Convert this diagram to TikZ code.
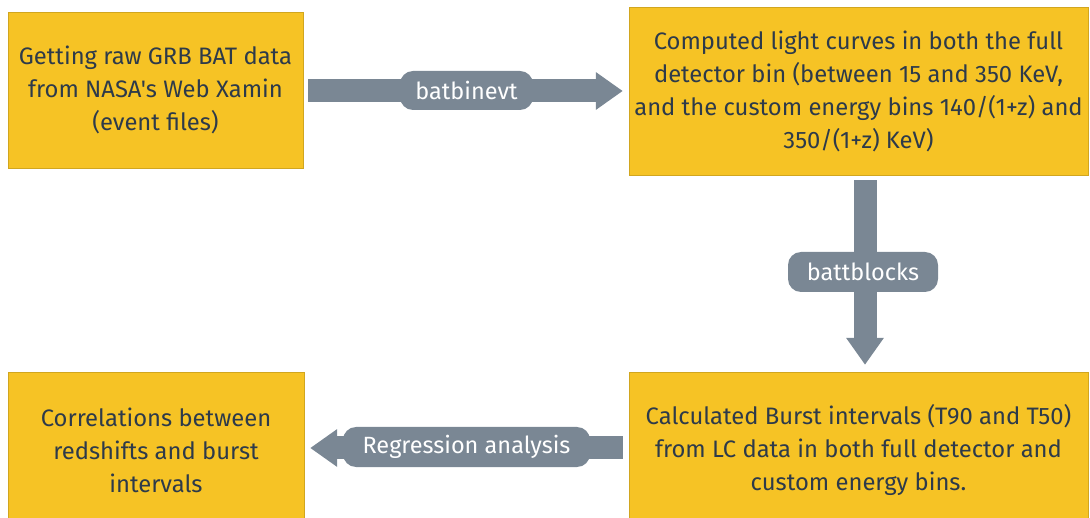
\documentclass[tikz,border=0pt]{standalone}
\usepackage{fontspec}
\setmainfont{Fira Sans}[Ligatures=TeXOff]
\usetikzlibrary{arrows.meta,shadows}
\definecolor{boxyellow}{HTML}{F6C325}
\definecolor{arrowgray}{HTML}{7A8794}
\definecolor{textdark}{HTML}{2D3A4A}
\tikzset{
  stepbox/.style={fill=boxyellow, draw=boxyellow!85!black, line width=0.4pt,
    text=textdark, align=center, inner sep=0pt,
    font=\fontsize{23.8}{33}\selectfont,
    drop shadow={shadow xshift=1pt, shadow yshift=-1.5pt, opacity=0.18}},
  flow/.style={draw=arrowgray, line width=23pt,
    -{Triangle[length=27pt,width=36pt]}},
  pill/.style={fill=arrowgray, text=white, rounded corners=13pt, inner sep=0pt,
    font=\fontsize{23.5}{26}\selectfont}
}
\begin{document}
\begin{tikzpicture}[x=1pt,y=-1pt]
\useasboundingbox (0,0) rectangle (1090,518);
\node[stepbox, minimum width=295pt, minimum height=156pt] (A) at (155.5,90)
  {Getting raw GRB BAT data\\from NASA's Web Xamin\\(event files)};
\node[stepbox, minimum width=459pt, minimum height=168pt] (B) at (858.5,91)
  {Computed light curves in both the full\\detector bin (between 15 and 350 KeV,\\and the custom energy bins 140/(1+z) and\\350/(1+z) KeV)};
\node[stepbox, minimum width=459pt, minimum height=156pt] (C) at (858.5,450)
  {Calculated Burst intervals (T90 and T50)\\from LC data in both full detector and\\custom energy bins.};
\node[stepbox, minimum width=296pt, minimum height=156pt] (D) at (156,450)
  {Correlations between\\redshifts and burst\\intervals};
\draw[flow, shorten <=5pt, shorten >=6pt] (A.east |- 0,91) -- (B.west |- 0,91);
\draw[flow, shorten <=5pt, shorten >=7pt] (B.south -| 865,0) -- (C.north -| 865,0);
\draw[flow, shorten <=6pt, shorten >=6pt] (C.west |- 0,448) -- (D.east |- 0,448);
\node[pill, minimum width=133pt, minimum height=39pt] (p1) at (466.5,90.5) {batbinevt};
\node[pill, minimum width=150pt, minimum height=40pt] (p2) at (863,272) {battblocks};
\node[pill, minimum width=247pt, minimum height=40pt] (p3) at (466.5,447) {Regression analysis};
\end{tikzpicture}
\end{document}
